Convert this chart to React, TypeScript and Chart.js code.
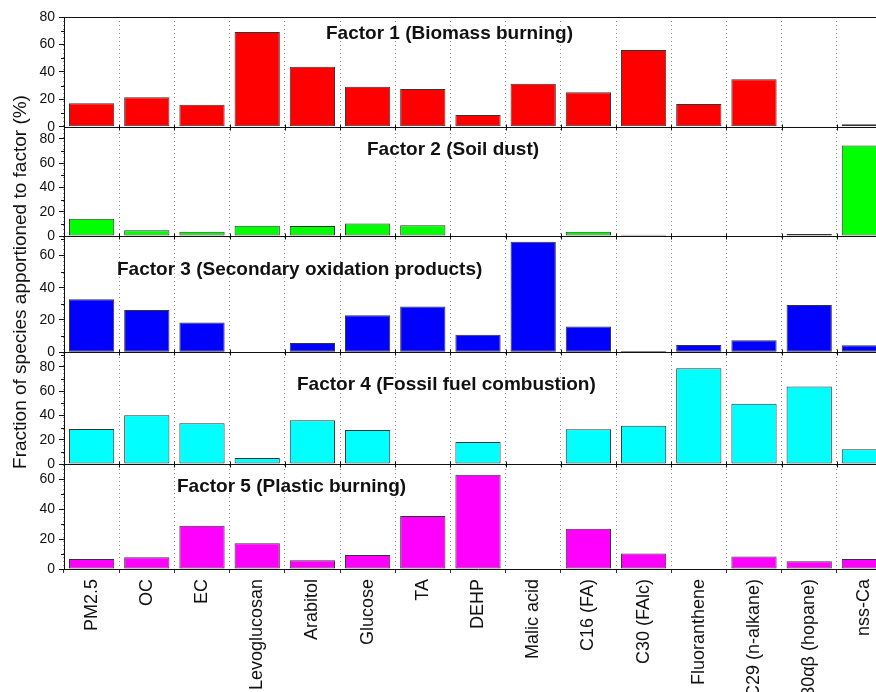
import React, { useEffect, useRef } from 'react';
import { Chart, registerables } from 'chart.js';

Chart.register(...registerables);

// ---------------- data ----------------
const categories = [
  'PM2.5', 'OC', 'EC', 'Levoglucosan', 'Arabitol', 'Glucose', 'TA', 'DEHP',
  'Malic acid', 'C16 (FA)', 'C30 (FAlc)', 'Fluoranthene', 'C29 (n-alkane)',
  'C30αβ (hopane)', 'nss-Ca',
];
const factor1 = [17.1, 21.4, 16.0, 69.1, 43.8, 29.2, 27.5, 8.5, 31.4, 25.1, 55.9, 16.6, 34.6, 0.2, 1.8];
const factor2 = [14.3, 4.7, 3.6, 8.5, 8.2, 10.2, 8.8, 0, 0, 3.6, 1.1, 0.3, 0, 1.6, 74.5];
const factor3 = [32.8, 26.2, 18.5, 0, 5.8, 23.0, 28.4, 10.8, 68.5, 16.0, 0.8, 4.5, 7.5, 29.3, 4.4];
const factor4 = [28.9, 40.1, 33.5, 4.9, 36.0, 28.0, 0, 18.1, 0, 28.6, 31.6, 78.9, 49.7, 63.8, 12.1];
const factor5 = [6.6, 7.8, 28.8, 17.1, 5.8, 9.3, 35.4, 62.9, 0, 26.8, 10.4, 0.3, 8.4, 5.1, 6.6];
const factorTitles = [
  'Factor 1 (Biomass burning)',
  'Factor 2 (Soil dust)',
  'Factor 3 (Secondary oxidation products)',
  'Factor 4 (Fossil fuel combustion)',
  'Factor 5 (Plastic burning)',
];
const axisMax = [80, 90, 72, 92, 70];
const tickStep = 20;
const minorStep = 10;
const yAxisTitle = 'Fraction of species apportioned to factor (%)';

// ---------------- style / layout ----------------
const seriesData = [factor1, factor2, factor3, factor4, factor5];
const colors = ['#FF0000', '#00FF00', '#0000FF', '#00FFFF', '#FF00FF'];
const panelWeights = [109.7, 109.3, 116.3, 111.7, 105];
// title anchor: offset from chartArea.left, offset from panel top
const titleOffsets = [
  [262, 16.5],
  [303, 23.5],
  [53, 34],
  [233, 32],
  [113, 23],
];
const FONT = '"Liberation Sans", Arial, Helvetica, sans-serif';
const CANVAS_W = 892;
const CANVAS_H = 692;

const panelPlugin = {
  id: 'panelDecor',
  afterDraw(chart: any) {
    const ctx = chart.ctx;
    const area = chart.chartArea;
    const xs = chart.scales.x;
    const n = categories.length;
    ctx.save();
    const bounds: number[] = [];
    for (let i = 0; i <= n; i++) {
      bounds.push(xs.getPixelForValue(i - 0.5));
    }
    for (let p = 0; p < 5; p++) {
      const s = chart.scales['y' + (p + 1)];
      ctx.strokeStyle = '#111';
      ctx.lineWidth = 1;
      ctx.setLineDash([]);
      const ty = Math.round(s.top) + 0.5;
      ctx.beginPath();
      ctx.moveTo(area.left, ty);
      ctx.lineTo(area.right, ty);
      ctx.stroke();
      for (let v = minorStep; v < axisMax[p]; v += tickStep) {
        const py = Math.round(s.getPixelForValue(v)) + 0.5;
        ctx.beginPath();
        ctx.moveTo(s.right - 3, py);
        ctx.lineTo(s.right, py);
        ctx.stroke();
      }
      const by = Math.round(s.bottom) + 0.5;
      if (p < 4) {
        for (let i = 1; i < n; i++) {
          const bx = Math.round(bounds[i]) + 0.5;
          ctx.beginPath();
          ctx.moveTo(bx, by - 3);
          ctx.lineTo(bx, by + 3);
          ctx.stroke();
        }
      }
      ctx.fillStyle = '#111';
      ctx.font = 'bold 19px ' + FONT;
      ctx.textAlign = 'left';
      ctx.textBaseline = 'middle';
      ctx.fillText(factorTitles[p], area.left + titleOffsets[p][0], s.top + titleOffsets[p][1]);
    }
    ctx.translate(26, (area.top + area.bottom) / 2 - 11);
    ctx.rotate(-Math.PI / 2);
    ctx.font = '19px ' + FONT;
    ctx.textAlign = 'center';
    ctx.textBaseline = 'alphabetic';
    ctx.fillStyle = '#111';
    ctx.fillText(yAxisTitle, 0, 0);
    ctx.restore();
  },
};

function makeYScale(p: number) {
  return {
    type: 'linear',
    position: 'left',
    stack: 'panels',
    stackWeight: panelWeights[p],
    weight: 5 - p,
    min: 0,
    max: axisMax[p],
    ticks: {
      stepSize: tickStep,
      includeBounds: false,
      autoSkip: false,
      font: { size: 14, family: FONT },
      color: '#111',
      padding: 4,
    },
    grid: {
      drawOnChartArea: false,
      drawTicks: true,
      tickLength: 5,
      tickColor: '#111',
    },
    border: { display: true, color: '#111', width: 1 },
    afterFit: (s: any) => {
      s.width = 64;
    },
  };
}

export default function App() {
  const ref = useRef<HTMLCanvasElement | null>(null);
  useEffect(() => {
    if (!ref.current) return;
    const datasets = seriesData.map((d, p) => ({
      label: factorTitles[p],
      data: d,
      backgroundColor: colors[p],
      borderColor: '#333',
      borderWidth: 1,
      borderSkipped: false,
      yAxisID: 'y' + (p + 1),
      grouped: false,
      barPercentage: 0.82,
      categoryPercentage: 1,
    }));
    const scales: any = {
      x: {
        type: 'category',
        offset: true,
        grid: {
          offset: true,
          color: '#8a8a8a',
          lineWidth: 1,
          drawTicks: true,
          tickLength: 4,
          tickColor: '#333',
        },
        border: { display: true, color: '#111', width: 1, dash: [1, 3] },
        ticks: {
          autoSkip: false,
          minRotation: 90,
          maxRotation: 90,
          padding: 6,
          color: '#111',
          font: { size: 18, family: FONT },
        },
        afterFit: (s: any) => {
          s.height = 123;
        },
      },
    };
    for (let p = 0; p < 5; p++) scales['y' + (p + 1)] = makeYScale(p);
    const chart = new Chart(ref.current, {
      type: 'bar',
      data: { labels: categories, datasets },
      options: {
        responsive: false,
        animation: false,
        events: [],
        devicePixelRatio: 1,
        layout: { padding: { top: 17, left: 0, right: 0, bottom: 0 } },
        plugins: { legend: { display: false }, tooltip: { enabled: false }, title: { display: false } },
        scales,
      } as any,
      plugins: [panelPlugin],
    } as any);
    return () => chart.destroy();
  }, []);
  return (
    <div
      style={{
        position: 'fixed',
        left: 0,
        top: 0,
        width: 876,
        height: 692,
        overflow: 'hidden',
        background: '#fff',
      }}
    >
      <canvas ref={ref} width={CANVAS_W} height={CANVAS_H} style={{ width: CANVAS_W, height: CANVAS_H, display: 'block' }} />
    </div>
  );
}
